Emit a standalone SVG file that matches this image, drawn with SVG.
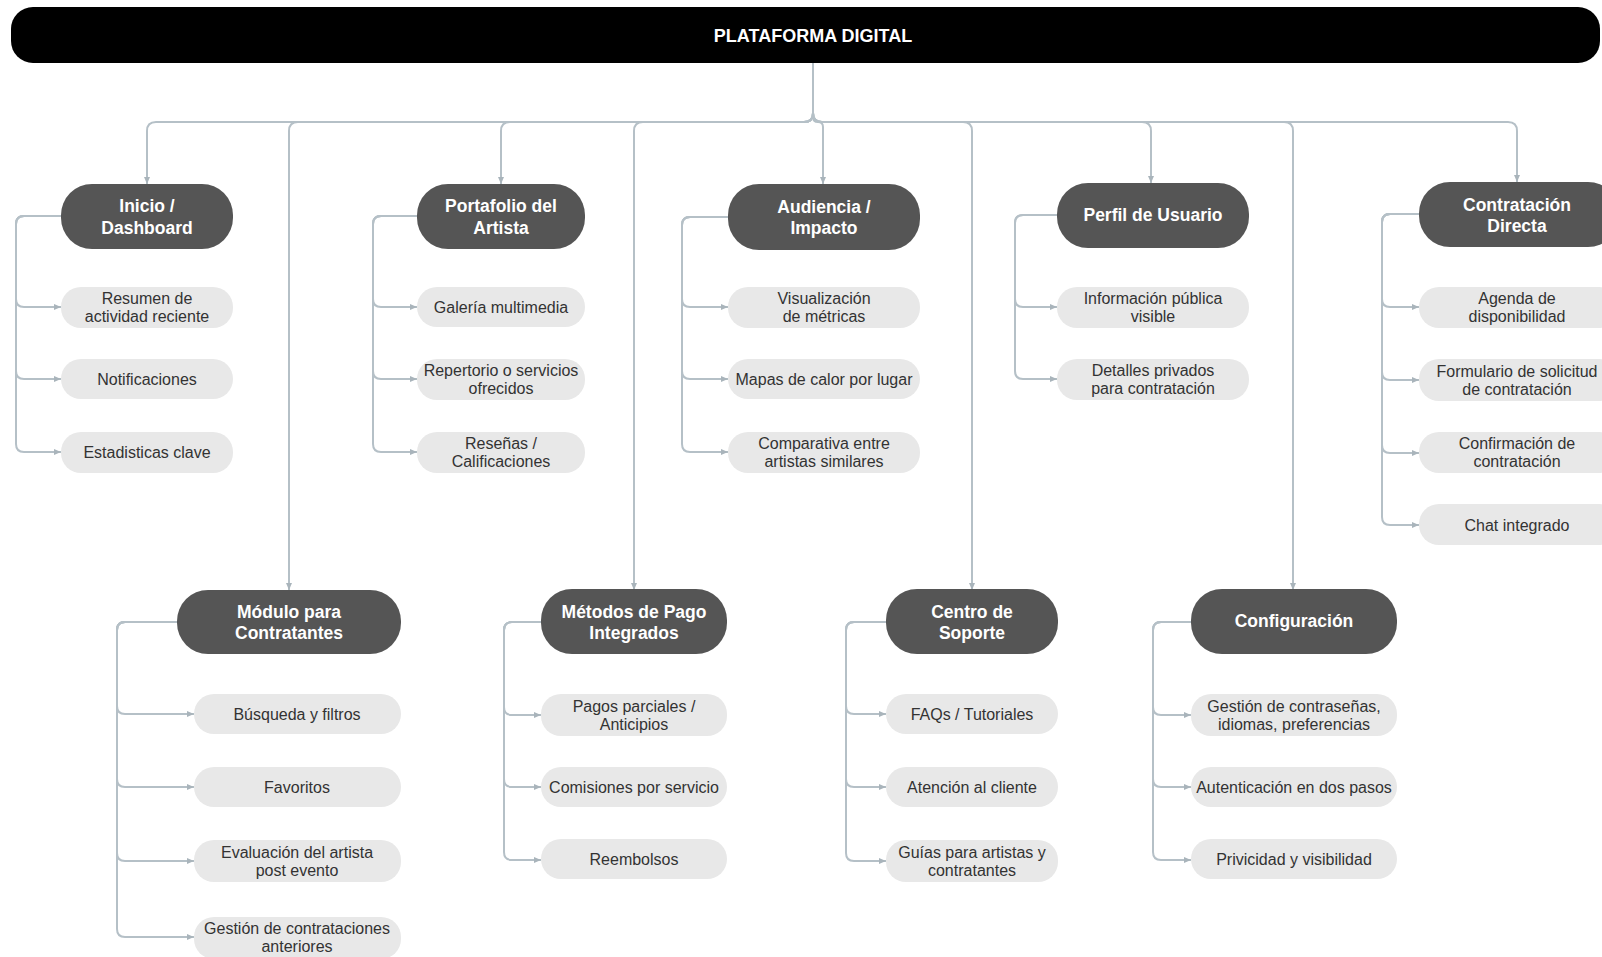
<svg xmlns="http://www.w3.org/2000/svg" width="1602" height="957" viewBox="0 0 1602 957">
<defs>
<marker id="arr" markerUnits="userSpaceOnUse" markerWidth="7" markerHeight="6" refX="7" refY="3" orient="auto">
<path d="M0,0 L7,3 L0,6 z" fill="#a9b4bb"/>
</marker>
<style>
.c{fill:none;stroke:#b5c0c7;stroke-width:2;marker-end:url(#arr)}
.d{fill:#555555}
.l{fill:#e8e8e8}
.dt{font-family:"Liberation Sans",Arial,sans-serif;font-size:17.5px;font-weight:bold;fill:#ffffff;text-anchor:middle}
.lt{font-family:"Liberation Sans",Arial,sans-serif;font-size:16px;fill:#333333;text-anchor:middle}
.tt{font-family:"Liberation Sans",Arial,sans-serif;font-size:18px;font-weight:bold;fill:#ffffff;text-anchor:middle}
</style>
</defs>
<rect width="1602" height="957" fill="#ffffff"/>

<g id="connectors">
<path class="c" d="M813,63 V113 Q813,122 804,122 H156 Q147,122 147,131 V184"/>
<path class="c" d="M813,63 V113 Q813,122 804,122 H298 Q289,122 289,131 V590"/>
<path class="c" d="M813,63 V113 Q813,122 804,122 H510 Q501,122 501,131 V184"/>
<path class="c" d="M813,63 V113 Q813,122 804,122 H643 Q634,122 634,131 V590"/>
<path class="c" d="M813,63 V117 Q813,122 818,122 Q823,122 823,127 V184"/>
<path class="c" d="M813,63 V113 Q813,122 822,122 H963 Q972,122 972,131 V590"/>
<path class="c" d="M813,63 V113 Q813,122 822,122 H1142 Q1151,122 1151,131 V183"/>
<path class="c" d="M813,63 V113 Q813,122 822,122 H1284 Q1293,122 1293,131 V590"/>
<path class="c" d="M813,63 V113 Q813,122 822,122 H1508 Q1517,122 1517,131 V182"/>
<path class="c" d="M61,216 H24 Q16,216 16,224 V299 Q16,307 24,307 H61"/>
<path class="c" d="M61,216 H24 Q16,216 16,224 V371 Q16,379 24,379 H61"/>
<path class="c" d="M61,216 H24 Q16,216 16,224 V444 Q16,452 24,452 H61"/>
<path class="c" d="M417,216 H381 Q373,216 373,224 V299 Q373,307 381,307 H417"/>
<path class="c" d="M417,216 H381 Q373,216 373,224 V371 Q373,379 381,379 H417"/>
<path class="c" d="M417,216 H381 Q373,216 373,224 V444 Q373,452 381,452 H417"/>
<path class="c" d="M728,217 H690 Q682,217 682,225 V299 Q682,307 690,307 H728"/>
<path class="c" d="M728,217 H690 Q682,217 682,225 V371 Q682,379 690,379 H728"/>
<path class="c" d="M728,217 H690 Q682,217 682,225 V444 Q682,452 690,452 H728"/>
<path class="c" d="M1057,215 H1023 Q1015,215 1015,223 V299 Q1015,307 1023,307 H1057"/>
<path class="c" d="M1057,215 H1023 Q1015,215 1015,223 V371 Q1015,379 1023,379 H1057"/>
<path class="c" d="M1419,214 H1390 Q1382,214 1382,222 V299 Q1382,307 1390,307 H1419"/>
<path class="c" d="M1419,214 H1390 Q1382,214 1382,222 V372 Q1382,380 1390,380 H1419"/>
<path class="c" d="M1419,214 H1390 Q1382,214 1382,222 V445 Q1382,453 1390,453 H1419"/>
<path class="c" d="M1419,214 H1390 Q1382,214 1382,222 V517 Q1382,525 1390,525 H1419"/>
<path class="c" d="M177,622 H125 Q117,622 117,630 V706 Q117,714 125,714 H194"/>
<path class="c" d="M177,622 H125 Q117,622 117,630 V779 Q117,787 125,787 H194"/>
<path class="c" d="M177,622 H125 Q117,622 117,630 V853 Q117,861 125,861 H194"/>
<path class="c" d="M177,622 H125 Q117,622 117,630 V929 Q117,937 125,937 H194"/>
<path class="c" d="M541,622 H512 Q504,622 504,630 V707 Q504,715 512,715 H541"/>
<path class="c" d="M541,622 H512 Q504,622 504,630 V779 Q504,787 512,787 H541"/>
<path class="c" d="M541,622 H512 Q504,622 504,630 V852 Q504,860 512,860 H541"/>
<path class="c" d="M886,622 H854 Q846,622 846,630 V706 Q846,714 854,714 H886"/>
<path class="c" d="M886,622 H854 Q846,622 846,630 V779 Q846,787 854,787 H886"/>
<path class="c" d="M886,622 H854 Q846,622 846,630 V853 Q846,861 854,861 H886"/>
<path class="c" d="M1191,622 H1161 Q1153,622 1153,630 V707 Q1153,715 1161,715 H1191"/>
<path class="c" d="M1191,622 H1161 Q1153,622 1153,630 V779 Q1153,787 1161,787 H1191"/>
<path class="c" d="M1191,622 H1161 Q1153,622 1153,630 V852 Q1153,860 1161,860 H1191"/>
</g>

<g id="root">
<rect x="11" y="7" width="1589" height="56" rx="22" fill="#000000"/>
<text class="tt" x="813" y="42">PLATAFORMA DIGITAL</text>
</g>

<g id="inicio">
<rect class="d" x="61" y="184" width="172" height="65" rx="31"/>
<text class="dt" x="147" y="212">Inicio /</text>
<text class="dt" x="147" y="233.5">Dashboard</text>
</g>
<g id="inicio-1"><rect class="l" x="61" y="287" width="172" height="41" rx="20"/><text class="lt" x="147" y="304">Resumen de</text><text class="lt" x="147" y="322">actividad reciente</text></g>
<g id="inicio-2"><rect class="l" x="61" y="359" width="172" height="40" rx="20"/><text class="lt" x="147" y="384.5">Notificaciones</text></g>
<g id="inicio-3"><rect class="l" x="61" y="432" width="172" height="41" rx="20"/><text class="lt" x="147" y="457.5">Estadisticas clave</text></g>

<g id="portafolio">
<rect class="d" x="417" y="184" width="168" height="65" rx="31"/>
<text class="dt" x="501" y="212">Portafolio del</text>
<text class="dt" x="501" y="233.5">Artista</text>
</g>
<g id="portafolio-1"><rect class="l" x="417" y="287" width="168" height="40" rx="20"/><text class="lt" x="501" y="312.5">Galería multimedia</text></g>
<g id="portafolio-2"><rect class="l" x="417" y="359" width="168" height="41" rx="20"/><text class="lt" x="501" y="376">Repertorio o servicios</text><text class="lt" x="501" y="394">ofrecidos</text></g>
<g id="portafolio-3"><rect class="l" x="417" y="432" width="168" height="41" rx="20"/><text class="lt" x="501" y="449">Reseñas /</text><text class="lt" x="501" y="467">Calificaciones</text></g>

<g id="audiencia">
<rect class="d" x="728" y="184" width="192" height="66" rx="31"/>
<text class="dt" x="824" y="212.5">Audiencia /</text>
<text class="dt" x="824" y="234">Impacto</text>
</g>
<g id="audiencia-1"><rect class="l" x="728" y="287" width="192" height="41" rx="20"/><text class="lt" x="824" y="304">Visualización</text><text class="lt" x="824" y="322">de métricas</text></g>
<g id="audiencia-2"><rect class="l" x="728" y="359" width="192" height="40" rx="20"/><text class="lt" x="824" y="384.5">Mapas de calor por lugar</text></g>
<g id="audiencia-3"><rect class="l" x="728" y="432" width="192" height="41" rx="20"/><text class="lt" x="824" y="449">Comparativa entre</text><text class="lt" x="824" y="467">artistas similares</text></g>

<g id="perfil">
<rect class="d" x="1057" y="183" width="192" height="65" rx="31"/>
<text class="dt" x="1153" y="221">Perfil de Usuario</text>
</g>
<g id="perfil-1"><rect class="l" x="1057" y="287" width="192" height="41" rx="20"/><text class="lt" x="1153" y="304">Información pública</text><text class="lt" x="1153" y="322">visible</text></g>
<g id="perfil-2"><rect class="l" x="1057" y="359" width="192" height="41" rx="20"/><text class="lt" x="1153" y="376">Detalles privados</text><text class="lt" x="1153" y="394">para contratación</text></g>

<g id="contratacion">
<rect class="d" x="1419" y="182" width="200" height="65" rx="31"/>
<text class="dt" x="1517" y="210.5">Contratación</text>
<text class="dt" x="1517" y="231.5">Directa</text>
</g>
<g id="contratacion-1"><rect class="l" x="1419" y="287" width="200" height="41" rx="20"/><text class="lt" x="1517" y="304">Agenda de</text><text class="lt" x="1517" y="322">disponibilidad</text></g>
<g id="contratacion-2"><rect class="l" x="1419" y="359" width="200" height="42" rx="20"/><text class="lt" x="1517" y="377">Formulario de solicitud</text><text class="lt" x="1517" y="395">de contratación</text></g>
<g id="contratacion-3"><rect class="l" x="1419" y="432" width="200" height="41" rx="20"/><text class="lt" x="1517" y="449">Confirmación de</text><text class="lt" x="1517" y="467">contratación</text></g>
<g id="contratacion-4"><rect class="l" x="1419" y="504" width="200" height="41" rx="20"/><text class="lt" x="1517" y="530.5">Chat integrado</text></g>

<g id="modulo">
<rect class="d" x="177" y="590" width="224" height="64" rx="31"/>
<text class="dt" x="289" y="618">Módulo para</text>
<text class="dt" x="289" y="639">Contratantes</text>
</g>
<g id="modulo-1"><rect class="l" x="194" y="694" width="207" height="40" rx="20"/><text class="lt" x="297" y="719.5">Búsqueda y filtros</text></g>
<g id="modulo-2"><rect class="l" x="194" y="767" width="207" height="40" rx="20"/><text class="lt" x="297" y="792.5">Favoritos</text></g>
<g id="modulo-3"><rect class="l" x="194" y="840" width="207" height="42" rx="20"/><text class="lt" x="297" y="858">Evaluación del artista</text><text class="lt" x="297" y="876">post evento</text></g>
<g id="modulo-4"><rect class="l" x="194" y="917" width="207" height="42" rx="20"/><text class="lt" x="297" y="934">Gestión de contrataciones</text><text class="lt" x="297" y="952">anteriores</text></g>

<g id="metodos">
<rect class="d" x="541" y="589" width="186" height="65" rx="31"/>
<text class="dt" x="634" y="617.5">Métodos de Pago</text>
<text class="dt" x="634" y="638.5">Integrados</text>
</g>
<g id="metodos-1"><rect class="l" x="541" y="694" width="186" height="42" rx="20"/><text class="lt" x="634" y="712">Pagos parciales /</text><text class="lt" x="634" y="730">Anticipios</text></g>
<g id="metodos-2"><rect class="l" x="541" y="767" width="186" height="40" rx="20"/><text class="lt" x="634" y="792.5">Comisiones por servicio</text></g>
<g id="metodos-3"><rect class="l" x="541" y="839" width="186" height="40" rx="20"/><text class="lt" x="634" y="864.5">Reembolsos</text></g>

<g id="centro">
<rect class="d" x="886" y="589" width="172" height="65" rx="31"/>
<text class="dt" x="972" y="617.5">Centro de</text>
<text class="dt" x="972" y="638.5">Soporte</text>
</g>
<g id="centro-1"><rect class="l" x="886" y="694" width="172" height="40" rx="20"/><text class="lt" x="972" y="719.5">FAQs / Tutoriales</text></g>
<g id="centro-2"><rect class="l" x="886" y="767" width="172" height="40" rx="20"/><text class="lt" x="972" y="792.5">Atención al cliente</text></g>
<g id="centro-3"><rect class="l" x="886" y="840" width="172" height="42" rx="20"/><text class="lt" x="972" y="858">Guías para artistas y</text><text class="lt" x="972" y="876">contratantes</text></g>

<g id="configuracion">
<rect class="d" x="1191" y="589" width="206" height="65" rx="31"/>
<text class="dt" x="1294" y="627">Configuración</text>
</g>
<g id="configuracion-1"><rect class="l" x="1191" y="694" width="206" height="42" rx="20"/><text class="lt" x="1294" y="712">Gestión de contraseñas,</text><text class="lt" x="1294" y="730">idiomas, preferencias</text></g>
<g id="configuracion-2"><rect class="l" x="1191" y="767" width="206" height="40" rx="20"/><text class="lt" x="1294" y="792.5">Autenticación en dos pasos</text></g>
<g id="configuracion-3"><rect class="l" x="1191" y="839" width="206" height="40" rx="20"/><text class="lt" x="1294" y="864.5">Privicidad y visibilidad</text></g>
</svg>
